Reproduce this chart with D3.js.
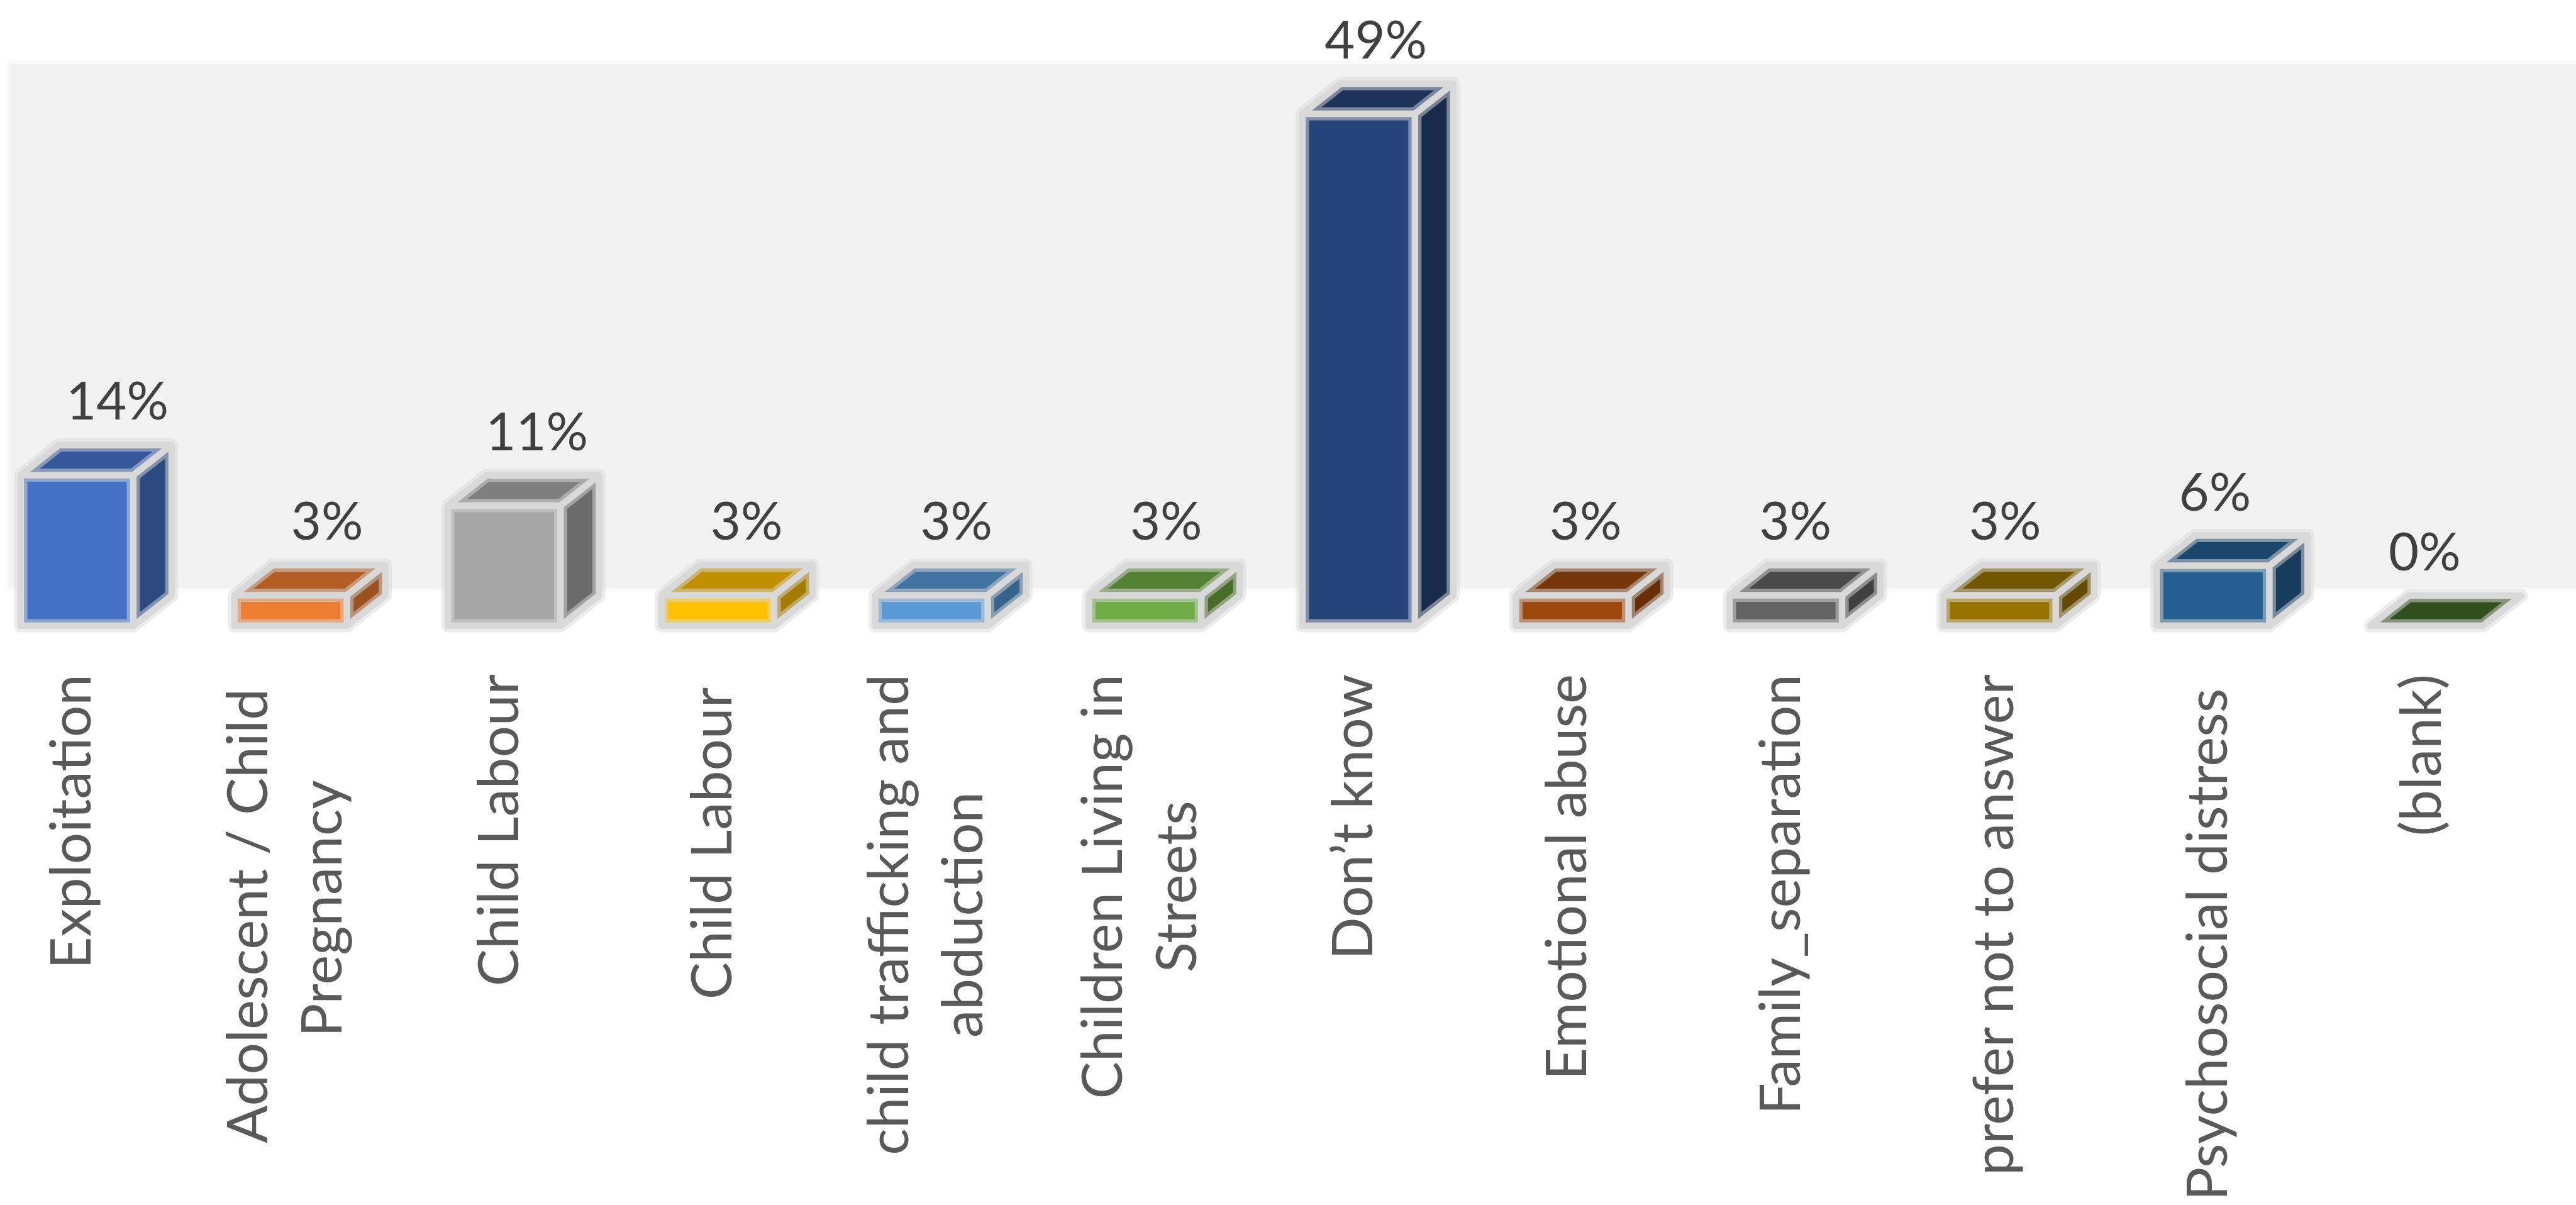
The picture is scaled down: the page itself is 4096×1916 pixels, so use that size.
<!DOCTYPE html>
<html><head><meta charset="utf-8">
<script src="https://cdn.jsdelivr.net/npm/d3@7"></script>
<style>
html,body{margin:0;padding:0;background:#fff;}
svg{display:block;}
text{font-family:Lato,"Open Sans",sans-serif;white-space:pre;}
</style></head><body>
<svg id="chart" width="4096" height="1916"></svg>
<script>
// ---- data ----
const categories = ["Exploitation", "Adolescent / Child \nPregnancy", "Child Labour", "Child Labour ",
  "child trafficking and\nabduction", "Children Living in\nStreets", "Don\u2019t know", "Emotional abuse",
  "Family_separation", "prefer not to answer", "Psychosocial distress ", "(blank)"];
const values = [0.143, 0.029, 0.114, 0.029, 0.029, 0.029, 0.486, 0.029, 0.029, 0.029, 0.057, 0];
const frontColors = ["#4472C4", "#ED7D31", "#A5A5A5", "#FFC000", "#5B9BD5", "#70AD47", "#264478", "#9E480E", "#636363", "#997300", "#255E91", "#43682B"];
const topColors = ["#34569A", "#B35E24", "#7F7F7F", "#C09000", "#4373A0", "#548235", "#1D335A", "#773609", "#4A4A4A", "#735600", "#1C476D", "#334E1F"];
const sideColors = ["#2B4A80", "#9B511F", "#6B6B6B", "#A57C00", "#37628A", "#496C28", "#182B4D", "#672E07", "#404040", "#634A00", "#173C5E", "#2A4019"];
const valueDomain = [0, 0.5];

// ---- layout ----
const svg = d3.select("#chart");
const x = d3.scaleBand().domain(categories).range([33, 3948]).paddingInner(0.473).paddingOuter(0);
const y = d3.scaleLinear().domain(valueDomain).range([995, 157.5]);
const DX = 61, DY = 48, FLOOR_DY = 58;
const PERSP = 0.018;   // horizontal perspective drift of the labels
const bw = x.bandwidth();
const fmt = d3.format(".0%");
const midX = (x.range()[0] + x.range()[1]) / 2;

// back wall
const wallTop = y(valueDomain[1]) - FLOOR_DY, wallBot = y(0) - FLOOR_DY;
svg.append("rect").attr("x", 14).attr("y", wallTop).attr("width", 4200).attr("height", wallBot - wallTop)
  .attr("fill", "#f2f2f2").attr("stroke", "#f9f9f9").attr("stroke-width", 5);

const data = categories.map((c, i) => ({c, v: values[i], f: frontColors[i], t: topColors[i], s: sideColors[i]}));

const bars = svg.append("g").selectAll("g").data(data).join("g");
function geo(d) {
  const x0 = x(d.c), x1 = x0 + bw, yt = y(d.v), yb = y(0);
  return {x0, x1, yt, yb};
}
bars.append("path").attr("fill", d => d.s).attr("d", d => {
  const g = geo(d);
  return `M${g.x1},${g.yt}L${g.x1 + DX},${g.yt - DY}V${g.yb - DY}L${g.x1},${g.yb}Z`;
});
bars.append("path").attr("fill", d => d.t).attr("d", d => {
  const g = geo(d);
  return `M${g.x0},${g.yt}L${g.x0 + DX},${g.yt - DY}H${g.x1 + DX}L${g.x1},${g.yt}Z`;
});
bars.append("path").attr("fill", d => d.f).attr("d", d => {
  const g = geo(d);
  return `M${g.x0},${g.yt}H${g.x1}V${g.yb}H${g.x0}Z`;
});
function edges(d) {
  const g = geo(d);
  return `M${g.x0},${g.yt}H${g.x1}V${g.yb}H${g.x0}Z` +
    `M${g.x0},${g.yt}L${g.x0 + DX},${g.yt - DY}H${g.x1 + DX}L${g.x1},${g.yt}` +
    `M${g.x1 + DX},${g.yt - DY}V${g.yb - DY}L${g.x1},${g.yb}`;
}
bars.append("path").attr("fill", "none").attr("stroke", "#d9d9d9").attr("stroke-opacity", 0.5)
  .attr("stroke-width", 21).attr("stroke-linejoin", "round").attr("d", edges);
bars.append("path").attr("fill", "none").attr("stroke", "#d9d9d9")
  .attr("stroke-width", 10.5).attr("stroke-linejoin", "round").attr("d", edges);

// data labels
svg.append("g").selectAll("text").data(data).join("text")
  .attr("x", d => {
    const cx = x(d.c) + bw / 2;
    return cx + DX / 2 - PERSP * (cx - midX);
  })
  .attr("y", d => y(d.v) - DY - 40)
  .attr("text-anchor", "middle")
  .attr("font-size", 83).attr("fill", "#404040")
  .text(d => fmt(d.v));

// category labels (rotated)
const AXIS_Y = 1072, LINE_H = 118, BASE_OFF = 24;
const cat = svg.append("g").selectAll("g").data(data).join("g")
  .attr("transform", d => `translate(${x(d.c) + bw / 2 - 2},${AXIS_Y}) rotate(-90)`);
cat.each(function(d) {
  const g = d3.select(this);
  const lines = d.c.split("\n");
  const n = lines.length;
  const ts = lines.map((ln, k) => g.append("text")
    .attr("font-size", 89).attr("fill", "#595959")
    .attr("y", BASE_OFF + (k - (n - 1) / 2) * LINE_H)
    .attr("text-anchor", "middle")
    .text(ln));
  const maxLen = d3.max(ts, t => t.node().getComputedTextLength());
  ts.forEach(t => t.attr("x", -maxLen / 2));
});
</script>
</body></html>
